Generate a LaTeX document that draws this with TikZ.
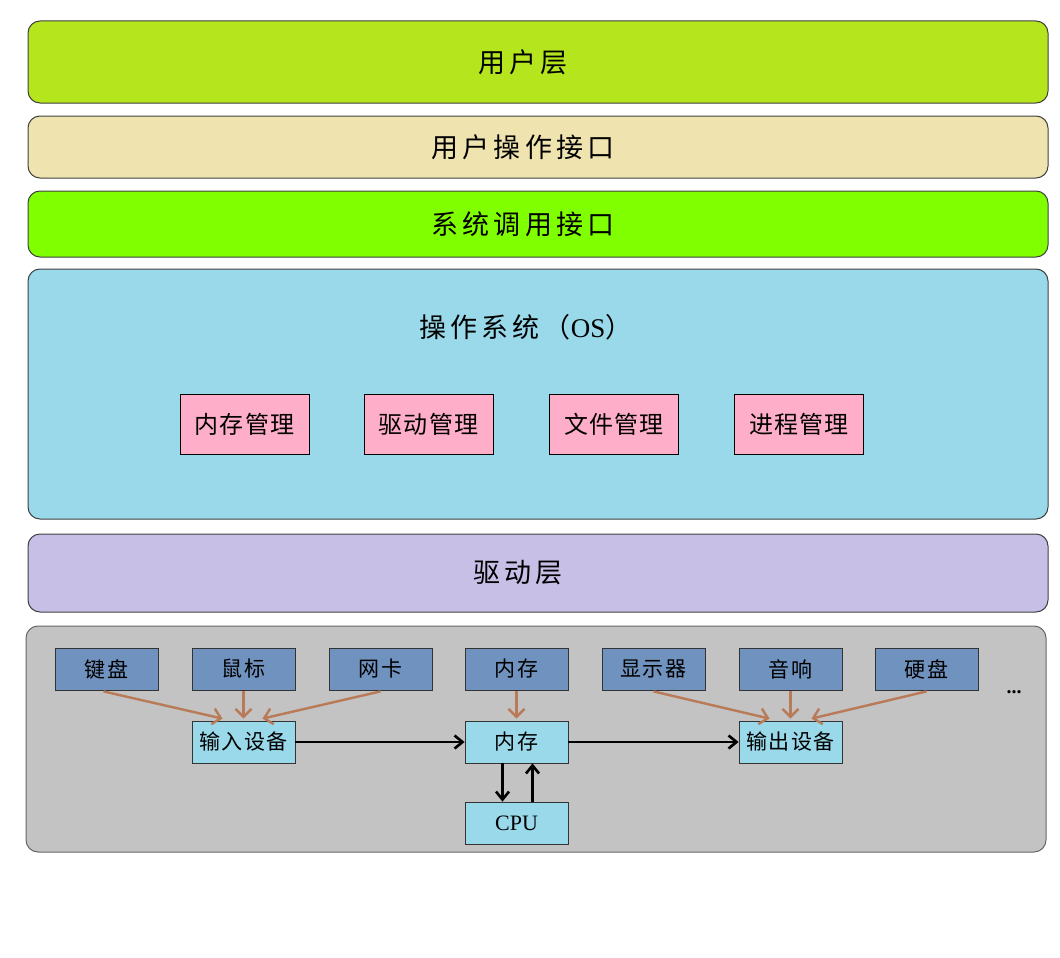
\documentclass[tikz,border=0pt]{standalone}
\usepackage{fontspec}
\setmainfont{Liberation Serif}
\newfontfamily\cjkL[LetterSpace=15]{Noto Sans CJK SC}
\newfontfamily\cjkM[LetterSpace=5]{Noto Sans CJK SC}
\usetikzlibrary{arrows.meta,calc}
\definecolor{userc}{HTML}{B5E61D}
\definecolor{uic}{HTML}{EFE4B0}
\definecolor{sysc}{HTML}{80FF00}
\definecolor{osc}{HTML}{99D9EA}
\definecolor{pinkc}{HTML}{FFAEC9}
\definecolor{drvc}{HTML}{C8BFE7}
\definecolor{hwc}{HTML}{C3C3C3}
\definecolor{devc}{HTML}{7092BE}
\definecolor{brownc}{HTML}{B97A57}
\tikzset{
  layer/.style={draw=black!75, line width=1pt, rounded corners=12pt, minimum width=1020pt, inner sep=0pt, font=\cjkL\fontsize{27}{30}\selectfont},
  mgr/.style={draw=black, line width=0.8pt, fill=pinkc, minimum width=129pt, minimum height=60pt, inner sep=0pt, font=\cjkM\fontsize{24}{26}\selectfont},
  dev/.style={draw=black!80, line width=0.8pt, fill=devc, minimum width=103pt, minimum height=42pt, inner sep=0pt, font=\cjkM\fontsize{21}{24}\selectfont},
  unit/.style={draw=black!80, line width=0.8pt, fill=osc, minimum width=103pt, minimum height=42pt, inner sep=0pt, font=\cjkM\fontsize{21}{24}\selectfont},
  barrow/.style={draw=brownc, line width=2.4pt, -{Straight Barb[length=8pt,width=16pt]}},
  karrow/.style={draw=black, line width=2.6pt, -{Straight Barb[length=8pt,width=13pt]}},
  title/.style={inner sep=0pt, font=\cjkL\fontsize{27}{30}\selectfont}
}
\begin{document}
\begin{tikzpicture}[x=1pt,y=-1pt]
\useasboundingbox (0,0) rectangle (1060,958);
% layers
\node[layer, fill=userc, minimum height=82pt] (user) at (538,62) {用户层\hspace*{30pt}};
\node[layer, fill=uic, minimum height=62pt] (ui) at (538,147) {用户操作接口\hspace*{30pt}};
\node[layer, fill=sysc, minimum height=66pt] (sys) at (538,224) {系统调用接口\hspace*{30pt}};
\node[layer, fill=osc, minimum height=250pt] (os) at (538,394) {};
\node[title] (ostitle) at (526,327) {操作系统（\rmfamily\fontsize{27}{30}\selectfont OS\cjkL）};
\node[mgr] (m1) at (244.5,424) {内存管理};
\node[mgr] (m2) at (428.5,424) {驱动管理};
\node[mgr] (m3) at (614,424) {文件管理};
\node[mgr] (m4) at (799,424) {进程管理};
\node[layer, fill=drvc, minimum height=78pt] (drv) at (538,573) {驱动层\hspace*{40pt}};
% hardware
\node[layer, draw=black!60, fill=hwc, minimum height=226pt] (hw) at (536,739) {};
\node[dev] (kb) at (106.5,669) {键盘};
\node[dev] (ms) at (243.5,669) {鼠标};
\node[dev] (nic) at (380.5,669) {网卡};
\node[dev] (ram) at (516.5,669) {内存};
\node[dev] (disp) at (653.5,669) {显示器};
\node[dev] (spk) at (790.5,669) {音响};
\node[dev] (hdd) at (926.5,669) {硬盘};
\node[inner sep=0pt, anchor=base, font=\bfseries\fontsize{20}{22}\selectfont] (more) at (1014,693) {...};
\node[unit] (in) at (243.5,742) {输入设备};
\node[unit] (mem) at (516.5,742) {内存};
\node[unit] (out) at (790.5,742) {输出设备};
\node[unit, font=\rmfamily\fontsize{22}{24}\selectfont] (cpu) at (516.5,823) {CPU};
% brown arrows
\draw[barrow] ($(kb.south)+(-3,1)$) -- ($(in.north)+(-21,-2)$);
\draw[barrow] ($(ms.south)+(0,1)$) -- ($(in.north)+(0,-2)$);
\draw[barrow] ($(nic.south)+(0,1)$) -- ($(in.north)+(19,-2)$);
\draw[barrow] ($(ram.south)+(0,1)$) -- ($(mem.north)+(0,-2)$);
\draw[barrow] ($(disp.south)+(0,1)$) -- ($(out.north)+(-21,-2)$);
\draw[barrow] ($(spk.south)+(0,1)$) -- ($(out.north)+(0,-2)$);
\draw[barrow] ($(hdd.south)+(0,1)$) -- ($(out.north)+(21,-2)$);
% black arrows
\draw[karrow] (in.east) -- (mem.west);
\draw[karrow] (mem.east) -- (out.west);
\draw[karrow] ($(mem.south)+(-14,0)$) -- ($(cpu.north)+(-14,0)$);
\draw[karrow] ($(cpu.north)+(16,0)$) -- ($(mem.south)+(16,0)$);
\end{tikzpicture}
\end{document}
